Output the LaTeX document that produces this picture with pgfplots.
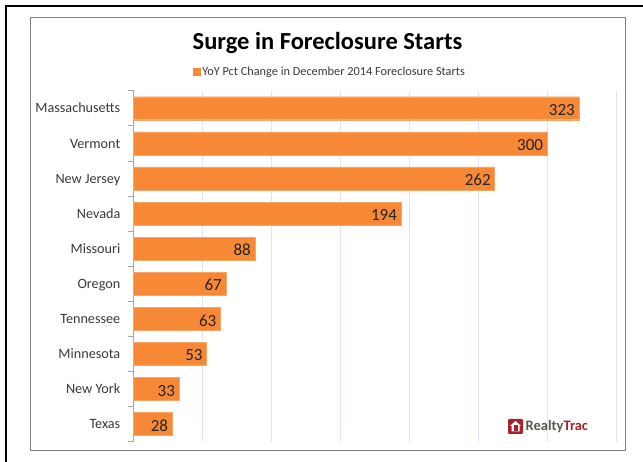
\documentclass[border=0pt]{standalone}
\usepackage{pgfplots}
\pgfplotsset{compat=1.18}
\usepackage{fontspec}
\setmainfont{Carlito}
\definecolor{barc}{HTML}{F68836}
\definecolor{gridc}{HTML}{DDE5F6}
\definecolor{labc}{HTML}{3A3A3A}
\definecolor{framec}{HTML}{7F7F7F}
\definecolor{logored}{HTML}{A5242A}
\definecolor{logogrey}{HTML}{5A5A52}
\begin{document}
\begin{tikzpicture}[x=1pt,y=1pt]
\useasboundingbox (0,0) rectangle (643,462);
\fill[white] (0,0) rectangle (643,462);
% outer black border
\draw[black,line width=2.4] (5.7,0) -- (5.7,456) -- (643,456);
% chart frame
\draw[framec,line width=1] (30,11) rectangle (625,444);
\node[font=\bfseries\fontsize{24.5}{26}\selectfont,text=black] at (327.5,419.5) {Surge in Foreclosure Starts};
\begin{axis}[
  at={(133.5pt,20.3pt)},anchor=south west,
  scale only axis,width=482.5pt,height=351pt,
  xmin=0,xmax=350,ymin=-0.5,ymax=9.5,y dir=reverse,
  xbar,bar width=23pt,bar shift=0pt,
  xtick={0,50,...,350},xticklabels={},
  xtick style={draw=none},
  xmajorgrids,grid style={gridc,line width=1pt},
  ytick={0,...,9},
  yticklabels={Massachusetts,Vermont,New Jersey,Nevada,Missouri,Oregon,Tennessee,Minnesota,New York,Texas},
  ytick style={draw=framec!70,line width=0.7pt},
  major tick length=0pt,
  tick align=outside,
  tick label style={font=\fontsize{14.2}{16}\selectfont,text=labc},
  yticklabel style={inner xsep=0pt,xshift=-13pt,yshift=-1.5pt,text height=9.5pt,text depth=3pt},
  extra y ticks={-0.5,0.5,...,9.5},
  extra y tick labels={},
  extra y tick style={grid=none,major tick length=5pt,tick align=outside},
  axis x line*=bottom,axis y line*=left,
  x axis line style={draw=none},
  y axis line style={draw=framec!70,line width=0.8pt,-},
  /pgf/number format/assume math mode=true,
  nodes near coords,
  every node near coord/.append style={anchor=east,font=\fontsize{17}{19}\selectfont,text=black!85,xshift=-0.5pt,yshift=-1.5pt},
  legend style={at={(0.407,1.053)},anchor=center,draw=none,fill=none,font=\fontsize{12.3}{14}\selectfont,text=labc,inner sep=0pt},
  legend image code/.code={\fill[barc] (0pt,-3.5pt) rectangle (7pt,3.5pt);},
  clip=false,
]
\addplot[fill=barc,draw=barc!75!white,line width=0.4pt] coordinates {
 (323,0) (300,1) (262,2) (194,3) (88,4) (67,5) (63,6) (53,7) (33,8) (28,9)};
\addlegendentry{YoY Pct Change in December 2014 Foreclosure Starts}
\end{axis}
% logo
\fill[logored,rounded corners=1.2] (508,28) rectangle (523,43);
\fill[white] (515.5,41) -- (510,36) -- (511.5,36) -- (511.5,30.5) -- (519.5,30.5) -- (519.5,36) -- (521,36) -- cycle;
\fill[logored] (513.5,30.5) rectangle (517.5,37);
\node[anchor=west,inner sep=0pt,font=\bfseries\fontsize{14.5}{16}\selectfont] at (525.5,35.5) {\textcolor{logogrey}{Realty}\textcolor{logored}{Trac}};
\end{tikzpicture}
\end{document}
